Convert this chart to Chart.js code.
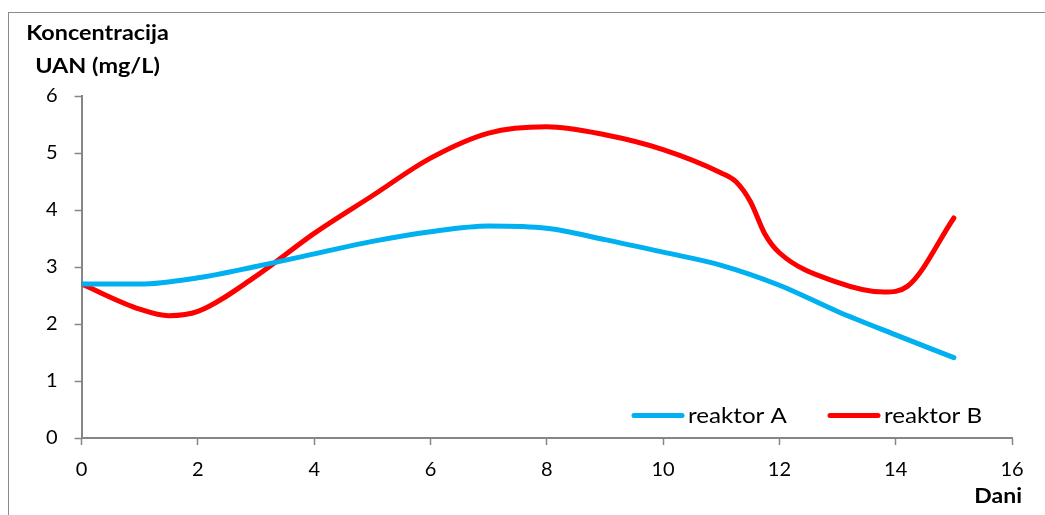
<!DOCTYPE html>
<html>
<head>
<meta charset="utf-8">
<script src="https://cdn.jsdelivr.net/npm/chart.js@4"></script>
<style>
  html, body { margin: 0; padding: 0; background: #fff; }
  #wrap { position: relative; width: 1045px; height: 515px; overflow: hidden; }
  #frame { position: absolute; left: 8px; top: 12px; width: 1100px; height: 600px;
           border-left: 1px solid #8a8a8a; border-top: 1px solid #8a8a8a; }
  canvas { position: absolute; left: 0; top: 0; }
</style>
</head>
<body>
<div id="wrap">
  <div id="frame"></div>
  <canvas id="lineChart" width="1045" height="515"></canvas>
</div>
<script>
const daysA = [0, 1, 2, 3, 4, 5, 6, 7, 8, 9, 10, 11, 12, 13, 14, 15];
const reaktorA = [2.70, 2.70, 2.81, 3.01, 3.23, 3.45, 3.62, 3.72, 3.68, 3.48, 3.26, 3.03, 2.68, 2.22, 1.81, 1.41];
const daysB = [0, 1, 1.5, 2, 3, 4, 5, 6, 7, 8, 9, 10, 11, 11.25, 11.5, 11.75, 12, 13, 13.8, 14.2, 15];
const reaktorB = [2.70, 2.26, 2.145, 2.22, 2.84, 3.59, 4.25, 4.91, 5.35, 5.46, 5.32, 5.06, 4.65, 4.50, 4.15, 3.58, 3.25, 2.73, 2.56, 2.66, 3.86];
const seriesNames = ["reaktor A", "reaktor B"];
const seriesColors = ["#00b0f0", "#ff0000"];
const xTicks = [0, 16, 2];
const yTicks = [0, 6, 1];

const FONT = "Lato, 'Open Sans', sans-serif";
Chart.defaults.font.family = FONT;
Chart.defaults.color = "#000";

function toPoints(xs, values) {
  return xs.map((d, i) => ({ x: d, y: values[i] }));
}

// text a bit wider than the font, like the original
function wideText(ctx, text, x, y, align, sx) {
  const w = ctx.measureText(text).width * sx;
  let left = x;
  if (align === "center") left = x - w / 2;
  if (align === "right") left = x - w;
  ctx.save();
  ctx.translate(left, y);
  ctx.scale(sx, 1);
  ctx.textAlign = "left";
  ctx.fillText(text, 0, 0);
  ctx.restore();
}

// legend inside the plot area + axis titles
const extras = {
  id: "extras",
  afterDraw(chart) {
    const ctx = chart.ctx;
    const area = chart.chartArea;
    ctx.save();
    ctx.fillStyle = "#000";
    ctx.textBaseline = "alphabetic";

    // legend
    const ly = area.bottom - 22.5;
    const starts = [area.right - 378, area.right - 182];
    ctx.font = "21px " + FONT;
    starts.forEach((sx, i) => {
      ctx.strokeStyle = seriesColors[i];
      ctx.lineWidth = 5;
      ctx.lineCap = "round";
      ctx.beginPath();
      ctx.moveTo(sx, ly);
      ctx.lineTo(sx + 48, ly);
      ctx.stroke();
      wideText(ctx, seriesNames[i], sx + 54, ly + 7.5, "left", 1.15);
    });

    // axis titles
    ctx.font = "bold 20px " + FONT;
    wideText(ctx, "Koncentracija", 97.5, 40, "center", 1.17);
    wideText(ctx, "UAN (mg/L)", 97.5, 73, "center", 1.17);
    wideText(ctx, "Dani", 1022, 503, "right", 1.15);
    ctx.restore();
  }
};

function lineSet(i, xs, values) {
  return {
    label: seriesNames[i],
    data: toPoints(xs, values),
    borderColor: seriesColors[i],
    backgroundColor: seriesColors[i],
    borderWidth: 5,
    borderCapStyle: "round",
    borderJoinStyle: "round",
    pointRadius: 0,
    cubicInterpolationMode: "monotone",
    fill: false
  };
}

new Chart(document.getElementById("lineChart"), {
  type: "line",
  data: {
    datasets: [lineSet(0, daysA, reaktorA), lineSet(1, daysB, reaktorB)]
  },
  options: {
    responsive: false,
    animation: false,
    layout: { padding: { top: 96, right: 33, left: 29, bottom: 0 } },
    plugins: {
      legend: { display: false },
      tooltip: { enabled: false }
    },
    scales: {
      x: {
        type: "linear",
        min: xTicks[0],
        max: xTicks[1],
        afterFit: s => { s.height = 77; },
        ticks: { stepSize: xTicks[2], font: { size: 20 }, padding: 13, color: "#000" },
        grid: { drawOnChartArea: false, tickLength: 7, tickColor: "#868686", tickWidth: 1.5 },
        border: { color: "#868686", width: 2 }
      },
      y: {
        min: yTicks[0],
        max: yTicks[1],
        ticks: { stepSize: yTicks[2], font: { size: 20 }, padding: 17, color: "#000" },
        grid: { drawOnChartArea: false, tickLength: 7, tickColor: "#868686", tickWidth: 1.5 },
        border: { color: "#868686", width: 2 }
      }
    }
  },
  plugins: [extras]
});
</script>
</body>
</html>
